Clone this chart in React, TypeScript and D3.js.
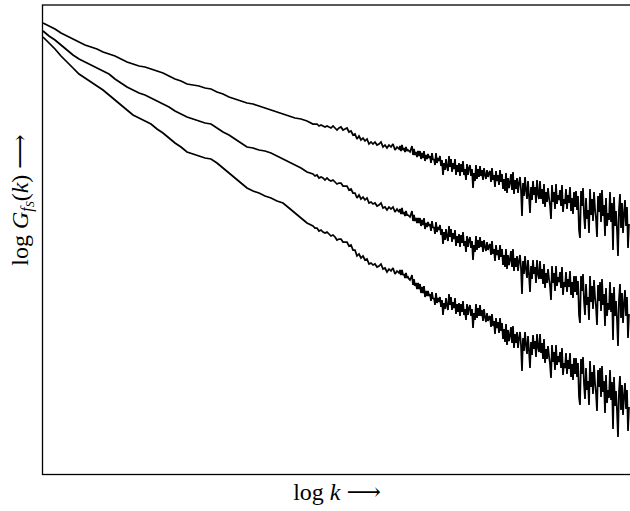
import React from "react";
import * as d3 from "d3";

// sample positions in log k: coarse in the smooth head, finer where the curves get noisy
const HEAD_LOGK = d3.range(46).map((i) => i * 0.06);
const MID_LOGK = d3.range(43).map((i) => 2.72 + i * 0.02);
const FINE_LOGK = d3.range(230).map((i) => 3.57 + i * 0.01);
const LOG_K = [...HEAD_LOGK, ...MID_LOGK, ...FINE_LOGK];

// log G values (top, middle, bottom curve)
const SERIES_TOP = [
  -0.18, -0.21, -0.24, -0.28, -0.31, -0.34, -0.37, -0.4, -0.42, -0.44,
  -0.47, -0.49, -0.51, -0.54, -0.57, -0.59, -0.61, -0.62, -0.64, -0.66,
  -0.68, -0.71, -0.74, -0.76, -0.79, -0.8, -0.81, -0.83, -0.84, -0.87,
  -0.89, -0.92, -0.94, -0.96, -0.98, -0.99, -1.01, -1.03, -1.05, -1.07,
  -1.09, -1.11, -1.13, -1.14, -1.16, -1.19,
  -1.19, -1.19, -1.21, -1.2, -1.21, -1.22, -1.21, -1.22, -1.23, -1.21,
  -1.23, -1.25, -1.23, -1.22, -1.25, -1.24, -1.23, -1.27, -1.26, -1.3,
  -1.29, -1.34, -1.31, -1.35, -1.33, -1.36, -1.34, -1.39, -1.37, -1.39,
  -1.37, -1.4, -1.39, -1.37, -1.42, -1.4, -1.43, -1.4, -1.42, -1.39,
  -1.45, -1.42, -1.44,
  -1.41, -1.46, -1.4, -1.45, -1.43, -1.47, -1.42, -1.46, -1.45, -1.46,
  -1.47, -1.44, -1.41, -1.5, -1.44, -1.5, -1.47, -1.52, -1.46, -1.51,
  -1.46, -1.54, -1.48, -1.53, -1.46, -1.56, -1.5, -1.54, -1.49, -1.53,
  -1.51, -1.58, -1.48, -1.55, -1.54, -1.6, -1.48, -1.58, -1.53, -1.56,
  -1.51, -1.61, -1.55, -1.7, -1.58, -1.65, -1.54, -1.62, -1.66, -1.51,
  -1.62, -1.54, -1.67, -1.58, -1.64, -1.54, -1.7, -1.6, -1.67, -1.58,
  -1.71, -1.59, -1.67, -1.56, -1.7, -1.64, -1.75, -1.59, -1.7, -1.63,
  -1.6, -1.71, -1.64, -1.83, -1.68, -1.76, -1.6, -1.74, -1.64, -1.72,
  -1.61, -1.71, -1.65, -1.75, -1.63, -1.7, -1.74, -1.65, -1.72, -1.68,
  -1.66, -1.77, -1.63, -1.75, -1.7, -1.82, -1.66, -1.76, -1.7, -1.8,
  -1.65, -1.77, -1.69, -1.84, -1.74, -1.86, -1.68, -1.88, -1.73, -1.83,
  -1.77, -1.69, -1.85, -1.67, -1.89, -1.75, -1.84, -1.73, -1.88, -1.78,
  -1.72, -1.85, -2.11, -1.78, -1.91, -1.72, -1.85, -1.94, -1.76, -1.91,
  -2.08, -1.82, -1.95, -1.76, -1.9, -1.82, -1.98, -1.75, -1.89, -1.94,
  -1.76, -1.94, -1.84, -1.99, -1.79, -2.02, -1.87, -1.97, -1.83, -1.93,
  -2.0, -2.14, -1.8, -1.97, -1.87, -2.04, -1.79, -1.99, -1.9, -1.95,
  -1.85, -2.01, -1.8, -2.07, -1.94, -1.99, -1.84, -2.04, -1.9, -1.98,
  -1.82, -2.06, -1.93, -2.09, -1.87, -2.02, -1.86, -2.05, -1.91, -2.25,
  -2.33, -1.86, -2.01, -1.83, -2.1, -2.24, -1.93, -2.14, -2.05, -2.28,
  -1.84, -2.1, -1.94, -2.16, -1.87, -2.04, -2.14, -2.32, -1.91, -2.07,
  -1.88, -2.17, -1.85, -2.11, -2.0, -2.31, -1.93, -2.21, -2.08, -2.15,
  -1.87, -2.17, -1.98, -2.45, -1.92, -2.21, -2.06, -2.25, -2.51, -2.04,
  -1.89, -2.23, -1.98, -2.28, -2.09, -1.95, -2.21, -2.02, -2.43, -2.19,
];

const SERIES_MID = [
  -0.26, -0.31, -0.35, -0.4, -0.45, -0.5, -0.54, -0.57, -0.6, -0.63,
  -0.66, -0.69, -0.74, -0.78, -0.82, -0.85, -0.88, -0.9, -0.93, -0.96,
  -0.99, -1.02, -1.06, -1.09, -1.12, -1.14, -1.16, -1.18, -1.19, -1.23,
  -1.27, -1.3, -1.34, -1.38, -1.42, -1.43, -1.45, -1.46, -1.48, -1.51,
  -1.54, -1.57, -1.6, -1.63, -1.67, -1.69,
  -1.71, -1.7, -1.73, -1.72, -1.73, -1.75, -1.73, -1.75, -1.76, -1.75,
  -1.77, -1.79, -1.78, -1.78, -1.81, -1.81, -1.81, -1.85, -1.84, -1.88,
  -1.88, -1.93, -1.9, -1.94, -1.92, -1.95, -1.93, -1.98, -1.97, -1.99,
  -1.98, -2.01, -2.0, -1.98, -2.03, -2.02, -2.05, -2.02, -2.04, -2.02,
  -2.07, -2.04, -2.07,
  -2.04, -2.09, -2.03, -2.09, -2.07, -2.11, -2.06, -2.1, -2.1, -2.11,
  -2.12, -2.09, -2.06, -2.16, -2.1, -2.16, -2.13, -2.18, -2.13, -2.18,
  -2.13, -2.21, -2.15, -2.2, -2.13, -2.24, -2.18, -2.22, -2.17, -2.21,
  -2.19, -2.26, -2.16, -2.23, -2.22, -2.29, -2.17, -2.27, -2.22, -2.25,
  -2.2, -2.3, -2.24, -2.39, -2.27, -2.35, -2.24, -2.32, -2.36, -2.21,
  -2.32, -2.24, -2.37, -2.28, -2.34, -2.25, -2.41, -2.31, -2.38, -2.29,
  -2.42, -2.3, -2.38, -2.27, -2.41, -2.36, -2.47, -2.31, -2.42, -2.35,
  -2.32, -2.43, -2.36, -2.55, -2.4, -2.47, -2.31, -2.45, -2.35, -2.43,
  -2.32, -2.42, -2.36, -2.47, -2.35, -2.42, -2.46, -2.37, -2.45, -2.41,
  -2.39, -2.5, -2.36, -2.49, -2.44, -2.56, -2.4, -2.5, -2.45, -2.55,
  -2.4, -2.52, -2.44, -2.6, -2.5, -2.62, -2.44, -2.64, -2.5, -2.6,
  -2.54, -2.46, -2.62, -2.44, -2.66, -2.53, -2.62, -2.51, -2.66, -2.56,
  -2.5, -2.63, -2.89, -2.56, -2.69, -2.51, -2.64, -2.73, -2.55, -2.7,
  -2.87, -2.61, -2.74, -2.55, -2.69, -2.62, -2.78, -2.55, -2.69, -2.74,
  -2.56, -2.74, -2.64, -2.79, -2.59, -2.83, -2.68, -2.78, -2.64, -2.74,
  -2.81, -2.95, -2.61, -2.78, -2.68, -2.86, -2.61, -2.81, -2.72, -2.77,
  -2.67, -2.83, -2.62, -2.9, -2.77, -2.82, -2.67, -2.87, -2.74, -2.82,
  -2.66, -2.9, -2.77, -2.93, -2.71, -2.87, -2.71, -2.9, -2.76, -3.1,
  -3.18, -2.71, -2.86, -2.69, -2.96, -3.1, -2.79, -3.0, -2.92, -3.15,
  -2.71, -2.97, -2.81, -3.04, -2.75, -2.92, -3.02, -3.2, -2.8, -2.96,
  -2.77, -3.06, -2.74, -3.0, -2.89, -3.21, -2.83, -3.11, -2.98, -3.05,
  -2.77, -3.07, -2.88, -3.35, -2.82, -3.11, -2.96, -3.15, -3.41, -2.94,
  -2.79, -3.13, -2.88, -3.18, -2.99, -2.85, -3.11, -2.92, -3.33, -3.09,
];

const SERIES_LOW = [
  -0.32, -0.38, -0.44, -0.51, -0.57, -0.63, -0.69, -0.73, -0.77, -0.81,
  -0.85, -0.9, -0.95, -1.0, -1.05, -1.1, -1.13, -1.16, -1.19, -1.24,
  -1.28, -1.33, -1.38, -1.42, -1.47, -1.49, -1.51, -1.53, -1.54, -1.58,
  -1.63, -1.68, -1.73, -1.78, -1.83, -1.86, -1.88, -1.91, -1.93, -1.96,
  -1.98, -2.03, -2.08, -2.13, -2.18, -2.21,
  -2.23, -2.23, -2.26, -2.25, -2.27, -2.28, -2.27, -2.29, -2.31, -2.3,
  -2.32, -2.35, -2.34, -2.34, -2.37, -2.37, -2.37, -2.41, -2.4, -2.45,
  -2.45, -2.51, -2.49, -2.53, -2.51, -2.55, -2.54, -2.59, -2.58, -2.6,
  -2.59, -2.62, -2.61, -2.59, -2.64, -2.63, -2.67, -2.64, -2.66, -2.63,
  -2.69, -2.66, -2.68,
  -2.65, -2.7, -2.65, -2.7, -2.69, -2.73, -2.68, -2.73, -2.72, -2.74,
  -2.75, -2.73, -2.7, -2.8, -2.74, -2.81, -2.78, -2.84, -2.78, -2.84,
  -2.79, -2.88, -2.82, -2.88, -2.81, -2.92, -2.86, -2.91, -2.86, -2.91,
  -2.89, -2.96, -2.87, -2.94, -2.93, -3.0, -2.88, -2.98, -2.93, -2.97,
  -2.92, -3.02, -2.95, -3.1, -2.98, -3.04, -2.93, -3.01, -3.05, -2.89,
  -3.0, -2.92, -3.05, -2.97, -3.03, -2.93, -3.09, -2.99, -3.07, -2.98,
  -3.11, -2.99, -3.07, -2.96, -3.1, -3.04, -3.15, -2.99, -3.1, -3.03,
  -3.0, -3.11, -3.04, -3.23, -3.08, -3.15, -2.99, -3.13, -3.03, -3.11,
  -3.0, -3.11, -3.05, -3.16, -3.04, -3.12, -3.17, -3.08, -3.16, -3.12,
  -3.11, -3.22, -3.09, -3.21, -3.16, -3.29, -3.13, -3.23, -3.17, -3.28,
  -3.13, -3.26, -3.18, -3.34, -3.24, -3.37, -3.19, -3.4, -3.25, -3.36,
  -3.3, -3.22, -3.38, -3.21, -3.43, -3.29, -3.38, -3.27, -3.43, -3.33,
  -3.27, -3.4, -3.66, -3.33, -3.46, -3.27, -3.4, -3.49, -3.31, -3.46,
  -3.63, -3.37, -3.5, -3.3, -3.44, -3.36, -3.52, -3.29, -3.42, -3.47,
  -3.29, -3.48, -3.38, -3.54, -3.34, -3.58, -3.44, -3.54, -3.41, -3.51,
  -3.59, -3.73, -3.4, -3.57, -3.47, -3.65, -3.4, -3.6, -3.51, -3.57,
  -3.47, -3.63, -3.43, -3.7, -3.58, -3.63, -3.48, -3.69, -3.55, -3.64,
  -3.48, -3.72, -3.59, -3.75, -3.53, -3.69, -3.53, -3.72, -3.58, -3.92,
  -4.0, -3.54, -3.69, -3.52, -3.79, -3.94, -3.63, -3.85, -3.76, -4.0,
  -3.56, -3.82, -3.67, -3.89, -3.6, -3.78, -3.88, -4.06, -3.65, -3.82,
  -3.63, -3.92, -3.61, -3.87, -3.76, -4.08, -3.7, -3.98, -3.85, -3.93,
  -3.65, -3.95, -3.77, -4.24, -3.72, -4.01, -3.86, -4.06, -4.32, -3.86,
  -3.71, -4.05, -3.8, -4.1, -3.91, -3.78, -4.04, -3.85, -4.26, -4.02,
];

const SERIES = [SERIES_TOP, SERIES_MID, SERIES_LOW];

const width = 630;
const height = 511;
const frame = { left: 42.5, top: 5, right: 630.8, bottom: 474.5 };
const font = "'Liberation Serif', 'Times New Roman', 'DejaVu Serif', serif";

export default function App() {
  const x = d3.scaleLinear().domain([0, 5.87]).range([43, 630]);
  const y = d3.scaleLinear().domain([-4.695, 0]).range([frame.bottom, frame.top]);

  const line = d3
    .line<number>()
    .x((_, i) => x(LOG_K[i]))
    .y((d) => y(d));

  return (
    <svg
      width={width}
      height={height}
      style={{ position: "absolute", left: 0, top: 0, background: "#fff" }}
    >
      <defs>
        <clipPath id="plot">
          <rect x={frame.left} y={frame.top} width={frame.right - frame.left} height={frame.bottom - frame.top} />
        </clipPath>
      </defs>
      <rect
        x={frame.left}
        y={frame.top}
        width={frame.right - frame.left}
        height={frame.bottom - frame.top}
        fill="none"
        stroke="#000"
        strokeWidth={1.3}
      />
      <g clipPath="url(#plot)">
        {SERIES.map((s, i) => (
          <path
            key={i}
            d={line(s) ?? ""}
            fill="none"
            stroke="#000"
            strokeWidth={1.75}
            strokeLinejoin="miter"
            strokeMiterlimit={2}
          />
        ))}
      </g>

      {/* x label */}
      <text x={337} y={500} textAnchor="middle" fontFamily={font} fontSize={24}>
        log <tspan fontStyle="italic">k</tspan> ⟶
      </text>

      {/* y label */}
      <text
        transform="translate(28,200) rotate(-90)"
        textAnchor="middle"
        fontFamily={font}
        fontSize={24}
      >
        log <tspan fontStyle="italic">G</tspan>
        <tspan fontStyle="italic" fontSize={16} dy={4}>f</tspan>
        <tspan fontStyle="italic" fontSize={12} dy={2}>S</tspan>
        <tspan dy={-6}>(</tspan>
        <tspan fontStyle="italic">k</tspan>) ⟶
      </text>
    </svg>
  );
}
